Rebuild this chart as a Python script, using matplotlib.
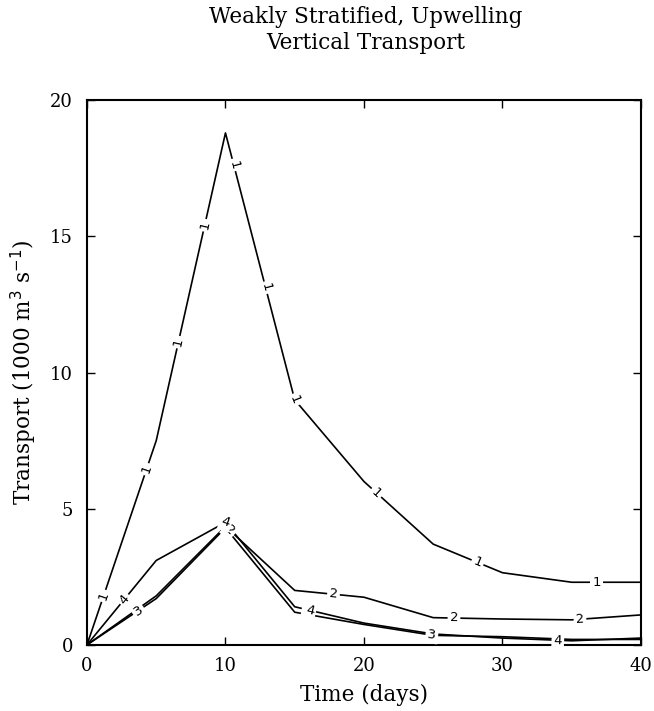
import numpy as np
import matplotlib
matplotlib.use('Agg')
from matplotlib import pyplot as plt

# transport curves (1000 m^3 s^-1)
days = [0, 5, 10, 15, 20, 25, 30, 35, 40]
line1 = [0, 7.5, 18.8, 9.0, 6.0, 3.7, 2.65, 2.3, 2.3]
line2 = [0, 1.8, 4.35, 2.0, 1.75, 1.0, 0.95, 0.92, 1.1]
line3 = [0, 1.7, 4.3, 1.2, 0.75, 0.35, 0.3, 0.2, 0.2]
line4 = [0, 3.1, 4.5, 1.4, 0.8, 0.4, 0.25, 0.15, 0.25]
names = ['1', '2', '3', '4']

# where the inline number labels sit along each curve (days)
lab1_x = [1.2, 4.3, 6.6, 8.5, 10.6, 12.9, 15.0, 20.9, 28.2, 36.8]
lab2_x = [10.3, 17.8, 26.5, 35.6]
lab3_x = [3.7, 15.9, 24.9]
lab4_x = [2.7, 10.0, 16.1, 34.0]

xticks = [0, 10, 20, 30, 40]
yticks = [0, 5, 10, 15, 20]

plt.rcParams['font.family'] = ['DejaVu Serif']

fig = plt.figure(figsize=(6.54, 7.11), dpi=100)
ax = fig.add_axes([0.133, 0.093, 0.847, 0.766])
ax.set_xlim(0, 40)
ax.set_ylim(0, 20)

series = [line1, line2, line3, line4]
labs = [lab1_x, lab2_x, lab3_x, lab4_x]
for ys in series:
    ax.plot(days, ys, color='black', lw=1.2, zorder=2)

fig.canvas.draw()
for ys, lx, nm in zip(series, labs, names):
    for x in lx:
        y = np.interp(x, days, ys)
        # angle of the curve on screen
        p0 = ax.transData.transform((x - 0.3, np.interp(x - 0.3, days, ys)))
        p1 = ax.transData.transform((x + 0.3, np.interp(x + 0.3, days, ys)))
        ang = np.degrees(np.arctan2(p1[1] - p0[1], p1[0] - p0[0]))
        ax.text(x, y, nm, fontsize=9.5, family='DejaVu Sans', rotation=ang,
                rotation_mode='anchor', ha='center', va='center', zorder=3,
                bbox=dict(facecolor='white', edgecolor='none', pad=1.5))

ax.set_xticks(xticks)
ax.set_yticks(yticks)
ax.tick_params(direction='in', length=6, width=1, labelsize=13,
               top=True, right=True)
ax.tick_params(axis='x', pad=9)
ax.tick_params(axis='y', pad=10)
for s in ax.spines.values():
    s.set_linewidth(1.5)

ax.set_xlabel('Time (days)', fontsize=15.5)
ax.xaxis.set_label_coords(0.5, -0.072)
ax.set_ylabel('Transport (1000 m$^3$ s$^{-1}$)', fontsize=15.5)
ax.yaxis.set_label_coords(-0.087, 0.5)

fig.text(0.56, 0.976, 'Weakly Stratified, Upwelling', fontsize=15.5,
         ha='center', va='center')
fig.text(0.56, 0.94, 'Vertical Transport', fontsize=15.5,
         ha='center', va='center')

fig.savefig('out.png', dpi=100)
